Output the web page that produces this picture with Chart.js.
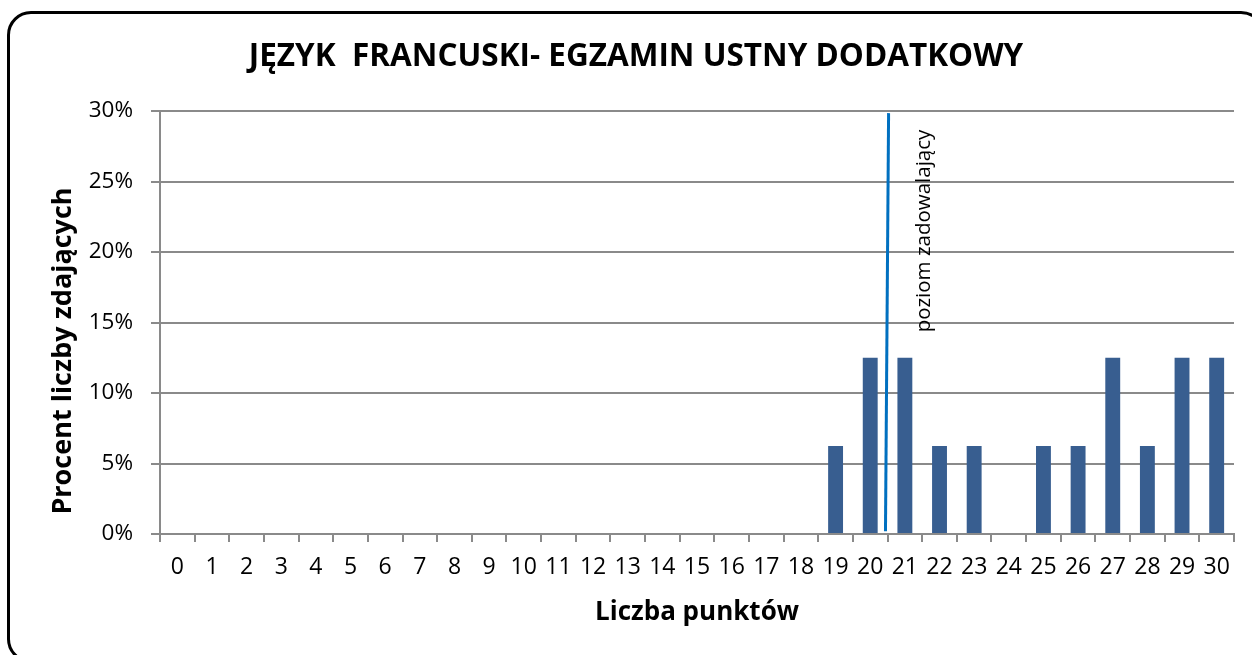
<!DOCTYPE html>
<html lang="pl">
<head>
    <meta charset="UTF-8">
    <title>Język francuski - egzamin ustny dodatkowy</title>
    <script src="https://cdn.jsdelivr.net/npm/chart.js"></script>
    <style>
        body {
            margin: 0;
            width: 1252px;
            height: 655px;
            overflow: hidden;
            background: #fff;
            position: relative;
        }
        #frame {
            position: absolute;
            left: 7px;
            top: 11px;
            width: 1258px;
            height: 652px;
            border: 3px solid #000;
            border-radius: 24px;
            box-sizing: border-box;
        }
        canvas {
            position: absolute;
            left: 0;
            top: 0;
        }
    </style>
</head>
<body>
    <div id="frame"></div>
    <canvas id="chart" width="1252" height="655"></canvas>

    <script>
        // dane: punkty i procent zdających
        const punkty = ['0','1','2','3','4','5','6','7','8','9','10','11','12','13','14','15',
                        '16','17','18','19','20','21','22','23','24','25','26','27','28','29','30'];
        const procent = [0,0,0,0,0,0,0,0,0,0,0,0,0,0,0,0,0,0,0,
                         6.25,12.5,12.5,6.25,6.25,0,6.25,6.25,12.5,6.25,12.5,12.5];
        const osY = [0, 5, 10, 15, 20, 25, 30];

        // linia progu (poziom zadowalający), lekko pochylona jak w oryginale
        const progX = [20.44, 20.53];
        const progY = [0.2, 29.85];
        const progEtykieta = 'poziom zadowalający';
        const etykietaPoz = { x: 21.73, y: 14.3 };

        const tytul = 'JĘZYK  FRANCUSKI- EGZAMIN USTNY DODATKOWY';
        const tytulX = 'Liczba punktów';
        const tytulY = 'Procent liczby zdających';

        const FONT = '"Open Sans", sans-serif';
        const SZARY = '#8a8a8a';

        // linia progu rysowana na skali x2 (liniowej, -0.5 .. 30.5)
        const linia = {
            id: 'linia',
            afterDatasetsDraw(chart) {
                const c = chart.ctx;
                const x2 = chart.scales.x2;
                const y = chart.scales.y;
                c.save();
                c.strokeStyle = '#0070C0';
                c.lineWidth = 3;
                c.beginPath();
                c.moveTo(x2.getPixelForValue(progX[0]), y.getPixelForValue(progY[0]));
                c.lineTo(x2.getPixelForValue(progX[1]), y.getPixelForValue(progY[1]));
                c.stroke();
                c.restore();
            }
        };

        // napisy rysowane ręcznie (tytuł, osie, etykieta linii)
        const napisy = {
            id: 'napisy',
            afterDraw(chart) {
                const c = chart.ctx;
                const x2 = chart.scales.x2;
                const y = chart.scales.y;
                c.save();
                c.fillStyle = '#000';

                c.font = 'bold 31.5px ' + FONT;
                c.textAlign = 'center';
                c.textBaseline = 'alphabetic';
                c.fillText(tytul, 636, 66);

                c.font = 'bold 26px ' + FONT;
                c.fillText(tytulX, 697, 620);

                c.save();
                c.font = 'bold 27px ' + FONT;
                c.translate(71, 351);
                c.rotate(-Math.PI / 2);
                c.fillText(tytulY, 0, 0);
                c.restore();

                c.save();
                c.font = '20.5px ' + FONT;
                c.textAlign = 'left';
                c.translate(x2.getPixelForValue(etykietaPoz.x), y.getPixelForValue(etykietaPoz.y));
                c.rotate(-Math.PI / 2);
                c.fillText(progEtykieta, 0, 0);
                c.restore();

                c.restore();
            }
        };

        const ctx = document.getElementById('chart').getContext('2d');
        new Chart(ctx, {
            type: 'bar',
            data: {
                labels: punkty,
                datasets: [
                    {
                        data: procent,
                        backgroundColor: '#385E90',
                        borderWidth: 0,
                        barPercentage: 0.43,
                        categoryPercentage: 1
                    }
                ]
            },
            options: {
                responsive: false,
                animation: false,
                layout: { padding: { left: 80, top: 111, right: 18, bottom: 71 } },
                plugins: {
                    legend: { display: false },
                    tooltip: { enabled: false }
                },
                scales: {
                    x: {
                        type: 'category',
                        offset: true,
                        grid: {
                            offset: true,
                            drawOnChartArea: false,
                            drawTicks: true,
                            tickLength: 8,
                            color: SZARY,
                            lineWidth: 2
                        },
                        border: { color: SZARY, width: 2 },
                        ticks: {
                            color: '#000',
                            font: { family: FONT, size: 23 },
                            padding: 12,
                            maxRotation: 0,
                            autoSkip: false
                        },
                        afterFit(s) { s.height = 50; }
                    },
                    x2: {
                        type: 'linear',
                        display: false,
                        offset: false,
                        min: -0.5,
                        max: punkty.length - 0.5
                    },
                    y: {
                        min: osY[0],
                        max: osY[osY.length - 1],
                        afterBuildTicks(s) { s.ticks = osY.map(v => ({ value: v })); },
                        grid: {
                            color: SZARY,
                            lineWidth: 2,
                            tickLength: 9
                        },
                        border: { color: SZARY, width: 2 },
                        ticks: {
                            color: '#000',
                            font: { family: FONT, size: 22.5 },
                            padding: 18,
                            callback: v => v + '%'
                        },
                        afterFit(s) { s.width = 80; }
                    }
                }
            },
            plugins: [linia, napisy]
        });
    </script>
</body>
</html>
